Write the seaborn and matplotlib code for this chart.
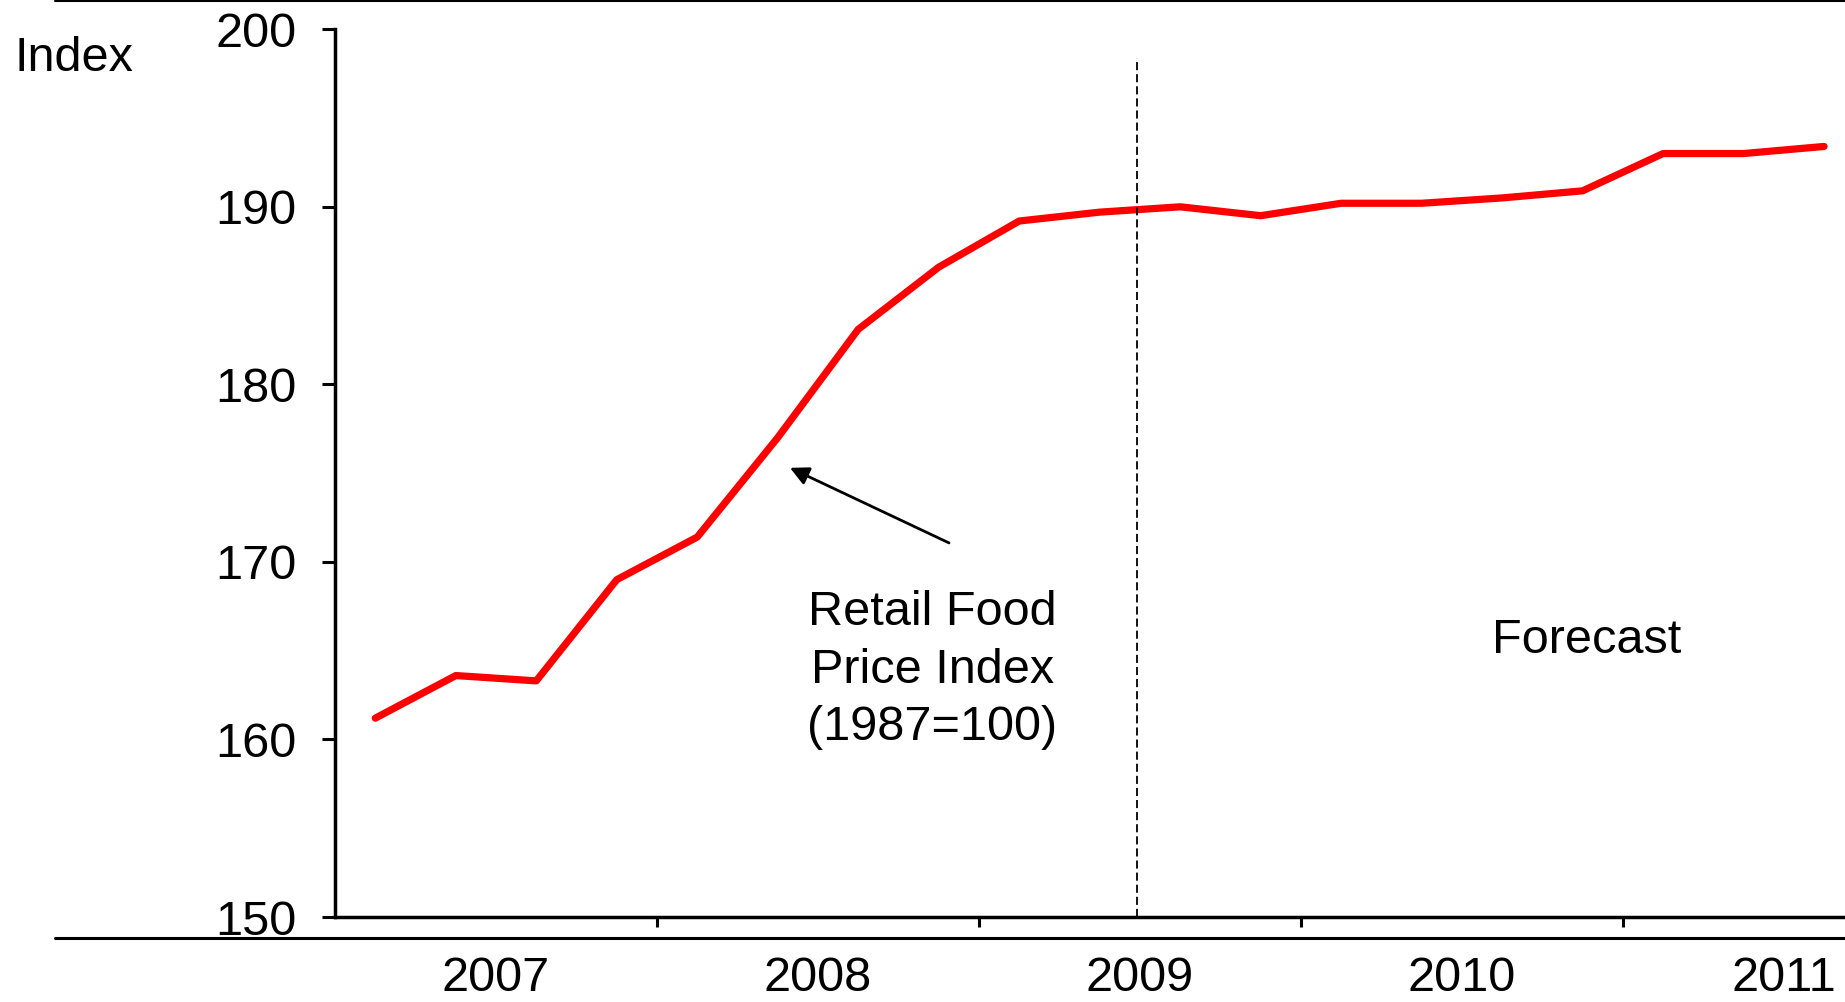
import numpy as np
import pandas as pd
import matplotlib
matplotlib.use('Agg')
import matplotlib.pyplot as plt
import seaborn as sns
from matplotlib.lines import Line2D

# quarterly retail food price index (1987=100)
years = [2007, 2007, 2007, 2007, 2008, 2008, 2008, 2008, 2009, 2009,
         2009, 2009, 2010, 2010, 2010, 2010, 2011, 2011, 2011]
quarters = [1, 2, 3, 4, 1, 2, 3, 4, 1, 2, 3, 4, 1, 2, 3, 4, 1, 2, 3]
index_values = [161.2, 163.6, 163.3, 169.0, 171.4, 177.0, 183.1, 186.6, 189.2, 189.7,
                190.0, 189.5, 190.2, 190.2, 190.5, 190.9, 193.0, 193.0, 193.4]
year_labels = ['2007', '2008', '2009', '2010', '2011']
y_ticks = [150, 160, 170, 180, 190, 200]

df = pd.DataFrame({'year': years, 'quarter': quarters, 'index': index_values})
df['t'] = df['year'] + (df['quarter'] - 0.5) / 4

sns.set_theme(style='white')
plt.rcParams['font.family'] = ['Liberation Sans', 'DejaVu Sans']
plt.rcParams['text.color'] = 'black'
plt.rcParams['xtick.color'] = 'black'
plt.rcParams['ytick.color'] = 'black'

fs = 35

fig = plt.figure(figsize=(18.45, 10.02), dpi=100)
ax = fig.add_axes([0.1816, 0.0848, 0.8184, 0.886])

sns.lineplot(data=df, x='t', y='index', color='#ff0000', linewidth=5.2, ax=ax)

# forecast divider
ax.plot([2009.49, 2009.49], [150, 198.4], color='black', lw=1.3, dashes=(4.5, 2.2))

ax.set_xlim(2007, 2011.69)
ax.set_ylim(150, 200)
ax.set_yticks(y_ticks)
ax.set_yticklabels([str(v) for v in y_ticks], fontsize=fs)

# year boundaries as major ticks, year names centred between them
ax.set_xticks([2008, 2009, 2010, 2011])
ax.set_xticklabels([])
ax.set_xticks([int(y) + 0.5 for y in year_labels], minor=True)
ax.set_xticklabels(year_labels, minor=True, fontsize=fs)
ax.tick_params(axis='x', which='major', direction='out', length=7, width=2.2, color='black', bottom=True)
ax.tick_params(axis='x', which='minor', length=0, pad=28, bottom=True)
ax.tick_params(axis='y', direction='out', length=9.5, width=2.2, color='black', pad=18.5, left=True)

for side in ['top', 'right']:
    ax.spines[side].set_visible(False)
for side in ['left', 'bottom']:
    ax.spines[side].set_color('black')
    ax.spines[side].set_linewidth(2.5)

ax.set_xlabel('')
ax.set_ylabel('')

fig.text(0.0076, 0.9415, 'Index', fontsize=fs, ha='left', va='center')

ax.annotate('', xy=(2008.413, 175.3), xytext=(2008.907, 171.07),
            arrowprops=dict(arrowstyle='-|>', color='black', lw=2, mutation_scale=28,
                            shrinkA=0, shrinkB=0))
ax.text(2008.855, 163.9, 'Retail Food\nPrice Index\n(1987=100)', fontsize=fs,
        ha='center', va='center', linespacing=1.36)
ax.text(2010.886, 165.6, 'Forecast', fontsize=fs, ha='center', va='center')

# frame lines above and below the chart
fig.add_artist(Line2D([55 / 1845, 1], [1 - 1 / 1002, 1 - 1 / 1002], color='black', lw=1.5))
fig.add_artist(Line2D([55 / 1845, 1], [1 - 938 / 1002, 1 - 938 / 1002], color='black', lw=2.2))

fig.savefig('out.png', dpi=100)
